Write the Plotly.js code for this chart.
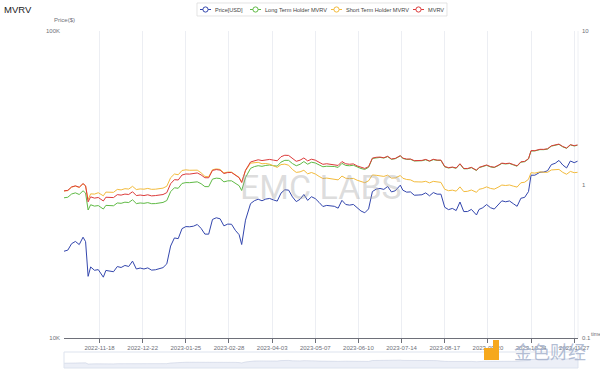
<!DOCTYPE html>
<html>
<head>
<meta charset="utf-8">
<script src="https://cdn.plot.ly/plotly-3.0.1.min.js"></script>
<style>html,body{margin:0;padding:0;background:#fff;}#chart{width:600px;height:371px;}</style>
</head>
<body>
<div id="chart"></div>
<script>
const dates = [
'2022-10-21','2022-10-24','2022-10-27','2022-10-30',
'2022-11-02','2022-11-05','2022-11-07','2022-11-09','2022-11-11','2022-11-14','2022-11-17','2022-11-21','2022-11-23','2022-11-26','2022-11-29',
'2022-12-02','2022-12-05','2022-12-08','2022-12-11','2022-12-14','2022-12-17','2022-12-20','2022-12-23','2022-12-26','2022-12-29',
'2023-01-01','2023-01-04','2023-01-07','2023-01-10','2023-01-13','2023-01-16','2023-01-19','2023-01-22','2023-01-25','2023-01-28','2023-01-31',
'2023-02-03','2023-02-06','2023-02-09','2023-02-12','2023-02-15','2023-02-18','2023-02-21','2023-02-24','2023-02-27',
'2023-03-02','2023-03-05','2023-03-08','2023-03-10','2023-03-13','2023-03-17','2023-03-20','2023-03-23','2023-03-26','2023-03-29',
'2023-04-01','2023-04-04','2023-04-07','2023-04-10','2023-04-13','2023-04-16','2023-04-19','2023-04-22','2023-04-25','2023-04-28',
'2023-05-01','2023-05-04','2023-05-07','2023-05-10','2023-05-13','2023-05-16','2023-05-19','2023-05-22','2023-05-25','2023-05-28','2023-05-31',
'2023-06-03','2023-06-06','2023-06-09','2023-06-12','2023-06-15','2023-06-18','2023-06-21','2023-06-24','2023-06-27','2023-06-30',
'2023-07-03','2023-07-06','2023-07-09','2023-07-13','2023-07-15','2023-07-18','2023-07-21','2023-07-24','2023-07-27','2023-07-30',
'2023-08-02','2023-08-05','2023-08-08','2023-08-11','2023-08-14','2023-08-17','2023-08-20','2023-08-23','2023-08-26','2023-08-29',
'2023-09-01','2023-09-04','2023-09-07','2023-09-11','2023-09-13','2023-09-16','2023-09-19','2023-09-22','2023-09-25','2023-09-28',
'2023-10-01','2023-10-04','2023-10-07','2023-10-10','2023-10-13','2023-10-16','2023-10-19','2023-10-22','2023-10-24','2023-10-27','2023-10-31',
'2023-11-03','2023-11-06','2023-11-09','2023-11-12','2023-11-15','2023-11-18','2023-11-21','2023-11-24','2023-11-27','2023-11-30'
];
const price = [
19170,19330,20290,20630,
20150,21300,20600,15880,17040,16620,16700,15780,16600,16520,16440,
17090,16970,17230,17100,17800,16780,16900,16780,16920,16640,
16680,16850,16950,17440,19930,21180,21070,22710,23060,23030,23130,
23430,22760,21800,21790,24330,24640,24450,23190,23500,
23470,22430,21700,20160,24200,27400,28000,28320,27990,28350,
28480,28170,27920,29650,30400,30310,28820,27820,28300,29340,
28070,28850,28450,27650,26810,27030,26890,26850,26480,28080,27220,
27090,27230,26480,25920,25580,26330,30000,30540,30700,30480,
31160,29910,30170,31470,30300,29860,29910,29180,29220,29280,
29700,29050,29770,29410,29410,26660,26190,26430,26010,27730,
25810,25820,26240,25160,26220,26570,27210,26580,26300,27030,
27980,27780,27950,27390,26850,28520,28720,29990,33900,33910,34660,
34730,35050,36700,37070,37880,36600,35800,37720,37250,37720
];
const lthMvrv = [
0.819,0.826,0.867,0.882,
0.861,0.910,0.880,0.682,0.738,0.723,0.729,0.692,0.731,0.729,0.727,
0.758,0.754,0.767,0.763,0.795,0.751,0.758,0.754,0.762,0.750,
0.751,0.759,0.764,0.786,0.898,0.952,0.945,1.016,1.029,1.028,1.030,
1.041,1.012,0.969,0.968,1.084,1.100,1.094,1.040,1.056,
1.057,1.013,0.982,0.914,1.110,1.274,1.308,1.326,1.314,1.331,
1.340,1.326,1.317,1.399,1.437,1.436,1.369,1.325,1.354,1.411,
1.356,1.397,1.381,1.342,1.305,1.315,1.312,1.310,1.292,1.373,1.331,
1.325,1.335,1.298,1.271,1.254,1.294,1.478,1.496,1.501,1.487,
1.519,1.459,1.472,1.535,1.478,1.457,1.459,1.423,1.425,1.428,
1.449,1.417,1.452,1.435,1.435,1.303,1.281,1.293,1.275,1.359,
1.265,1.266,1.287,1.233,1.286,1.302,1.333,1.302,1.290,1.325,
1.371,1.361,1.370,1.342,1.316,1.398,1.408,1.467,1.654,1.654,1.687,
1.686,1.701,1.777,1.791,1.825,1.759,1.720,1.809,1.782,1.804
];
const sthMvrv = [
0.906,0.913,0.961,0.977,
0.957,1.011,0.978,0.798,0.869,0.866,0.884,0.844,0.892,0.893,0.889,
0.929,0.922,0.939,0.934,0.973,0.927,0.936,0.932,0.943,0.930,
0.932,0.941,0.947,0.974,1.107,1.170,1.158,1.234,1.246,1.238,1.237,
1.240,1.192,1.130,1.123,1.248,1.264,1.254,1.189,1.205,
1.204,1.150,1.113,1.034,1.228,1.377,1.393,1.395,1.365,1.370,
1.356,1.323,1.293,1.348,1.357,1.335,1.253,1.199,1.209,1.238,
1.174,1.197,1.171,1.129,1.094,1.101,1.093,1.089,1.072,1.135,1.098,
1.092,1.096,1.066,1.041,1.027,1.057,1.154,1.148,1.141,1.129,
1.150,1.100,1.103,1.144,1.098,1.078,1.072,1.042,1.040,1.038,
1.049,1.025,1.048,1.034,1.032,0.931,0.911,0.919,0.905,0.965,
0.899,0.903,0.921,0.889,0.930,0.942,0.965,0.943,0.933,0.959,
0.992,0.985,0.993,0.976,0.962,1.026,1.035,1.081,1.194,1.186,1.208,
1.202,1.200,1.244,1.244,1.254,1.200,1.166,1.217,1.194,1.201
];
const mvrv = [
0.909,0.916,0.964,0.980,
0.960,1.014,0.981,0.771,0.831,0.815,0.823,0.781,0.826,0.826,0.822,
0.859,0.853,0.866,0.861,0.897,0.847,0.854,0.847,0.857,0.843,
0.847,0.855,0.860,0.885,1.012,1.075,1.070,1.153,1.171,1.169,1.174,
1.189,1.155,1.107,1.106,1.235,1.251,1.241,1.180,1.196,
1.197,1.144,1.107,1.031,1.238,1.402,1.432,1.449,1.432,1.450,
1.457,1.441,1.428,1.517,1.551,1.546,1.470,1.416,1.440,1.489,
1.425,1.461,1.441,1.396,1.354,1.365,1.355,1.353,1.331,1.411,1.364,
1.355,1.362,1.321,1.290,1.273,1.307,1.485,1.504,1.509,1.494,
1.527,1.466,1.479,1.543,1.485,1.464,1.466,1.430,1.432,1.435,
1.456,1.424,1.459,1.442,1.442,1.310,1.287,1.299,1.281,1.366,
1.271,1.272,1.293,1.239,1.292,1.309,1.340,1.309,1.296,1.332,
1.378,1.368,1.377,1.349,1.323,1.405,1.415,1.474,1.662,1.662,1.695,
1.694,1.710,1.786,1.800,1.834,1.768,1.729,1.818,1.791,1.813
];
const tickDates = ['2022-11-18','2022-12-22','2023-01-25','2023-02-28','2023-04-03','2023-05-07','2023-06-10','2023-07-14','2023-08-17','2023-09-20','2023-10-24','2023-11-27'];
const tickLabels = tickDates.slice();
const seriesNames = ['Price[USD]','Long Term Holder MVRV','Short Term Holder MVRV','MVRV'];
const seriesColors = ['#3346ad','#5fba45','#f3bb3c','#dc3a3a'];
const priceTicks = [10000,100000], priceTickText = ['10K','100K'];
const ratioTicks = [0.1,1,10], ratioTickText = ['0.1','1','10'];

// ---- layout helpers (pixel -> paper) ----
const L=64, R=578, T=31, B=368;
const PX = x => (x-L)/(R-L);
const PY = y => (B-y)/(B-T);
const font = 'Liberation Sans, Arial, sans-serif';
const gray = '#6e7079';

const traces = [
 {x:dates, y:price, type:'scatter', mode:'lines', name:seriesNames[0], line:{color:seriesColors[0], width:1}, xaxis:'x', yaxis:'y', hoverinfo:'skip'},
 {x:dates, y:lthMvrv, type:'scatter', mode:'lines', name:seriesNames[1], line:{color:seriesColors[1], width:1}, xaxis:'x', yaxis:'y2', hoverinfo:'skip'},
 {x:dates, y:sthMvrv, type:'scatter', mode:'lines', name:seriesNames[2], line:{color:seriesColors[2], width:1}, xaxis:'x', yaxis:'y2', hoverinfo:'skip'},
 {x:dates, y:mvrv, type:'scatter', mode:'lines', name:seriesNames[3], line:{color:seriesColors[3], width:1}, xaxis:'x', yaxis:'y2', hoverinfo:'skip'},
 {x:dates, y:price, type:'scatter', mode:'lines', fill:'tozeroy', fillcolor:'rgba(200,210,232,0.35)', line:{color:'rgba(170,182,210,0.6)', width:0.6}, xaxis:'x2', yaxis:'y3', hoverinfo:'skip'}
];

const shapes = [];
const annotations = [];
// legend box
shapes.push({type:'rect', xref:'paper', yref:'paper', x0:PX(197), x1:PX(447), y0:PY(16), y1:PY(3), line:{color:'#d9d9d9', width:0.7}, fillcolor:'rgba(0,0,0,0)'});
const legX = [200, 250, 331, 413];
for (let i=0;i<4;i++){
  const x0 = legX[i], cy = 9.5;
  shapes.push({type:'line', xref:'paper', yref:'paper', x0:PX(x0), x1:PX(x0+11), y0:PY(cy), y1:PY(cy), line:{color:seriesColors[i], width:1}});
  shapes.push({type:'circle', xref:'paper', yref:'paper', x0:PX(x0+5.5-2.6), x1:PX(x0+5.5+2.6), y0:PY(cy+2.6), y1:PY(cy-2.6), line:{color:seriesColors[i], width:1}, fillcolor:'#ffffff'});
  annotations.push({xref:'paper', yref:'paper', x:PX(x0+13), y:PY(cy), xanchor:'left', yanchor:'middle', text:seriesNames[i], showarrow:false, font:{family:font, size:5.6, color:'#444'}});
}
// data zoom frame
shapes.push({type:'rect', xref:'paper', yref:'paper', x0:PX(64), x1:PX(578), y0:PY(368), y1:PY(352), line:{color:'#dde3ee', width:1}, fillcolor:'rgba(0,0,0,0)'});
// right edge line
shapes.push({type:'line', xref:'paper', yref:'paper', x0:1, x1:1, y0:PY(338), y1:PY(31), line:{color:'#eef0f4', width:1}});
// orange logo of the corner watermark
shapes.push({type:'path', xref:'paper', yref:'paper',
  path:`M ${PX(484)} ${PY(348)} L ${PX(493)} ${PY(348)} L ${PX(493)} ${PY(340)} L ${PX(499)} ${PY(340)} L ${PX(499)} ${PY(360)} L ${PX(484)} ${PY(360)} Z`,
  fillcolor:'#f6a81c', line:{width:0}});

annotations.push({xref:'paper', yref:'paper', x:PX(2), y:PY(10), xanchor:'left', yanchor:'middle', text:'MVRV', showarrow:false, font:{family:font, size:9.5, color:'#222'}});
annotations.push({xref:'paper', yref:'paper', x:PX(64), y:PY(20.5), xanchor:'center', yanchor:'middle', text:'Price($)', showarrow:false, font:{family:font, size:6, color:gray}});
annotations.push({xref:'paper', yref:'paper', x:PX(589), y:PY(333.5), xanchor:'left', yanchor:'middle', text:'time', showarrow:false, font:{family:font, size:5.5, color:gray}});
annotations.push({xref:'paper', yref:'paper', x:PX(321), y:PY(187), xanchor:'center', yanchor:'middle', text:'EMC LABS', showarrow:false, font:{family:'Roboto, sans-serif', size:34, color:'rgba(165,165,165,0.38)'}});
annotations.push({xref:'paper', yref:'paper', x:PX(550), y:PY(351), xanchor:'center', yanchor:'middle', text:'金色财经', showarrow:false, font:{family:'Noto Sans CJK SC', size:18, color:'rgba(165,178,205,0.85)'}});

const layout = {
  width:600, height:371,
  margin:{l:L, r:600-R, t:T, b:371-B},
  paper_bgcolor:'#ffffff', plot_bgcolor:'#ffffff',
  showlegend:false,
  font:{family:font, size:6, color:gray},
  xaxis:{type:'date', range:['2022-10-21','2023-11-30'], anchor:'y',
    tickmode:'array', tickvals:tickDates, ticktext:tickLabels,
    showgrid:true, gridcolor:'#eceef3', gridwidth:1,
    showline:true, linecolor:gray, linewidth:1,
    ticks:'outside', ticklen:4, tickcolor:gray, tickwidth:1,
    tickfont:{family:font, size:6, color:gray}, zeroline:false, fixedrange:true},
  xaxis2:{type:'date', range:['2022-10-21','2023-11-30'], anchor:'y3', visible:false, showgrid:false, fixedrange:true},
  yaxis:{type:'log', range:[4,5], domain:[PY(338), 1], anchor:'x',
    tickmode:'array', tickvals:priceTicks, ticktext:priceTickText,
    showgrid:false, showline:false, zeroline:false, ticks:'', ticklabelstandoff:3,
    tickfont:{family:font, size:6, color:gray}, fixedrange:true},
  yaxis2:{type:'log', range:[-1,1], overlaying:'y', side:'right', anchor:'x',
    tickmode:'array', tickvals:ratioTicks, ticktext:ratioTickText,
    showgrid:false, showline:false, zeroline:false, ticks:'', ticklabelstandoff:3,
    tickfont:{family:font, size:6, color:gray}, fixedrange:true},
  yaxis3:{domain:[0, PY(353)], anchor:'x2', range:[0, 60000], visible:false, showgrid:false, fixedrange:true},
  shapes:shapes,
  annotations:annotations
};
Plotly.newPlot('chart', traces, layout, {staticPlot:true, displayModeBar:false});
</script>
</body>
</html>
